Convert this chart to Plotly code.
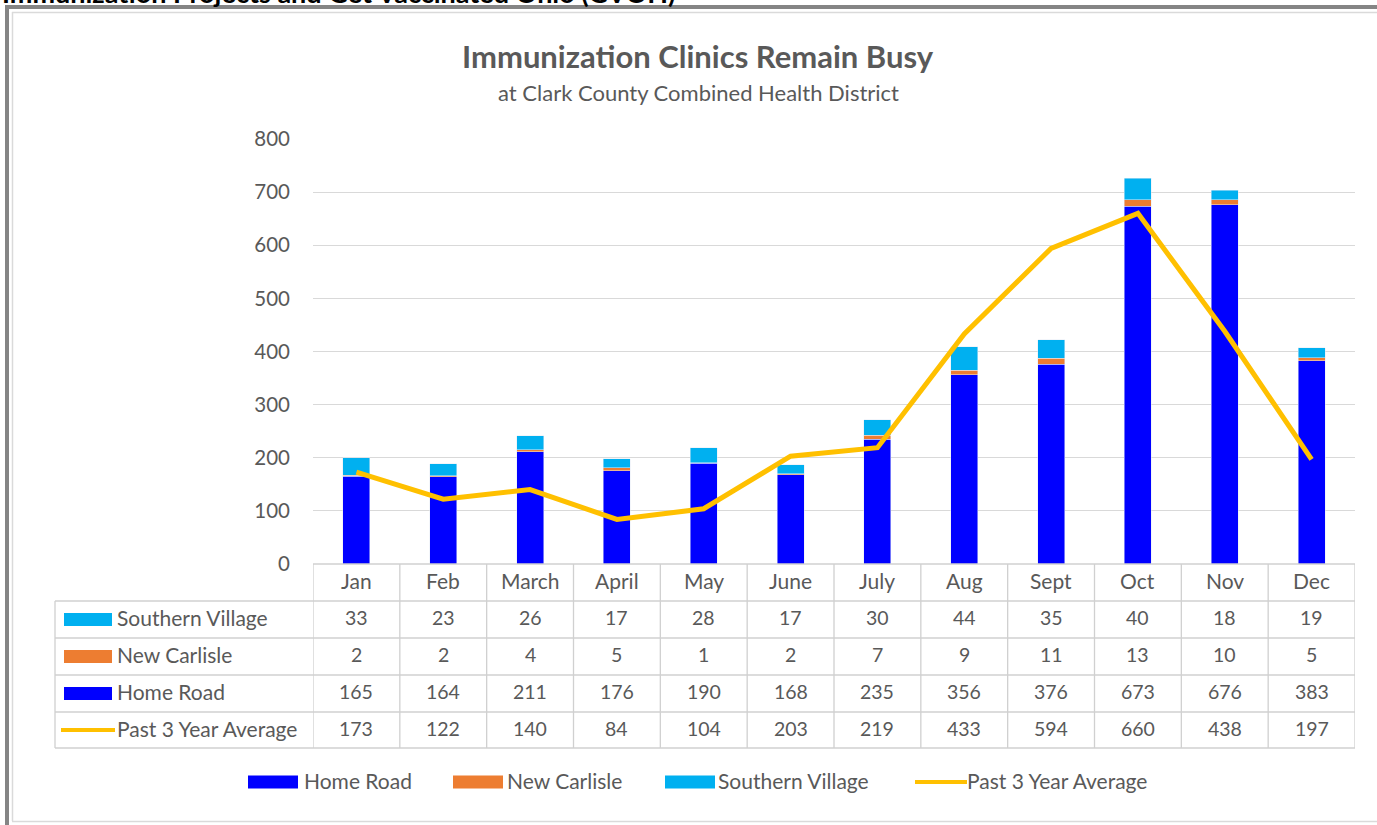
import plotly.graph_objects as go

# --- data ---
months = ["Jan", "Feb", "March", "April", "May", "June", "July", "Aug", "Sept", "Oct", "Nov", "Dec"]
home_road = [165, 164, 211, 176, 190, 168, 235, 356, 376, 673, 676, 383]
new_carlisle = [2, 2, 4, 5, 1, 2, 7, 9, 11, 13, 10, 5]
southern_village = [33, 23, 26, 17, 28, 17, 30, 44, 35, 40, 18, 19]
past_3yr_avg = [173, 122, 140, 84, 104, 203, 219, 433, 594, 660, 438, 197]

COLORS = {
    "home": "#0000FF",
    "carlisle": "#ED7D31",
    "southern": "#00B0F0",
    "avg": "#FFC000",
    "text": "#595959",
    "grid": "#D9D9D9",
    "border": "#D0D0D0",
}
FONT = "Lato"
W, H = 1377, 825
TXT_SHIFT = 2  # annotations sit a little low, nudge them up


def px(x):
    return x / W


def py(y):
    return 1 - y / H


fig = go.Figure()
fig.add_trace(go.Bar(x=months, y=home_road, name="Home Road", marker_color=COLORS["home"]))
fig.add_trace(go.Bar(x=months, y=new_carlisle, name="New Carlisle", marker_color=COLORS["carlisle"]))
fig.add_trace(go.Bar(x=months, y=southern_village, name="Southern Village", marker_color=COLORS["southern"]))
fig.add_trace(go.Scatter(x=months, y=past_3yr_avg, name="Past 3 Year Average", mode="lines",
                         line=dict(color=COLORS["avg"], width=5)))

shapes = []
annotations = []


def note(x, y, text, font, xref="paper", xanchor="center", yanchor="middle"):
    annotations.append(dict(x=x, xref=xref, y=y, yref="paper", text=text, showarrow=False,
                            xanchor=xanchor, yanchor=yanchor, font=font))


# --- data table under the plot ---
row_lines = [564, 601, 638, 675, 712, 748]
table_rows = [
    ("Southern Village", southern_village, COLORS["southern"], "bar"),
    ("New Carlisle", new_carlisle, COLORS["carlisle"], "bar"),
    ("Home Road", home_road, COLORS["home"], "bar"),
    ("Past 3 Year Average", past_3yr_avg, COLORS["avg"], "line"),
]
line_style = dict(color=COLORS["border"], width=1.3)

# horizontal borders
shapes.append(dict(type="line", xref="paper", yref="paper", x0=px(313), x1=px(1355),
                   y0=py(564), y1=py(564), line=line_style))
for yl in row_lines[1:]:
    shapes.append(dict(type="line", xref="paper", yref="paper", x0=px(55), x1=px(1355),
                       y0=py(yl), y1=py(yl), line=line_style))
# vertical borders
shapes.append(dict(type="line", xref="paper", yref="paper", x0=px(55), x1=px(55),
                   y0=py(601), y1=py(748), line=line_style))
for i in range(len(months) + 1):
    shapes.append(dict(type="line", xref="x", yref="paper", x0=i - 0.5, x1=i - 0.5,
                       y0=py(564), y1=py(748), line=line_style))

label_font = dict(family=FONT, size=21, color=COLORS["text"])
num_font = dict(family=FONT, size=19.5, color=COLORS["text"])
for m in months:
    note(m, py(582 - TXT_SHIFT), m, label_font, xref="x")
for r, (label, vals, color, kind) in enumerate(table_rows):
    yc = (row_lines[r + 1] + row_lines[r + 2]) / 2
    if kind == "bar":
        shapes.append(dict(type="rect", xref="paper", yref="paper", x0=px(64), x1=px(112),
                           y0=py(yc - 6.5), y1=py(yc + 6.5), fillcolor=color, line=dict(width=0)))
    else:
        shapes.append(dict(type="line", xref="paper", yref="paper", x0=px(61), x1=px(115),
                           y0=py(yc), y1=py(yc), line=dict(color=color, width=4)))
    note(px(115), py(yc - TXT_SHIFT), label, label_font, xanchor="left")
    for m, v in zip(months, vals):
        note(m, py(yc - TXT_SHIFT), str(v), num_font, xref="x")

# --- legend (drawn Excel style) ---
legend_items = [
    ("Home Road", COLORS["home"], "bar", 248, 302),
    ("New Carlisle", COLORS["carlisle"], "bar", 453, 505),
    ("Southern Village", COLORS["southern"], "bar", 665, 716),
    ("Past 3 Year Average", COLORS["avg"], "line", 915, 965),
]
ly = 782
for label, color, kind, sx, tx in legend_items:
    if kind == "bar":
        shapes.append(dict(type="rect", xref="paper", yref="paper", x0=px(sx), x1=px(sx + 50),
                           y0=py(ly - 6.5), y1=py(ly + 6.5), fillcolor=color, line=dict(width=0)))
    else:
        shapes.append(dict(type="line", xref="paper", yref="paper", x0=px(sx), x1=px(sx + 52),
                           y0=py(ly), y1=py(ly), line=dict(color=color, width=4)))
    note(px(tx), py(ly - TXT_SHIFT), label, label_font, xanchor="left")

# --- titles ---
note(px(698), py(56), "<b>Immunization Clinics Remain Busy</b>",
     dict(family=FONT, size=31, color=COLORS["text"]))
note(px(698), py(92), "at Clark County Combined Health District",
     dict(family=FONT, size=22, color=COLORS["text"]))
# clipped worksheet heading above the chart
note(px(678), py(11), "<b>Immunization Projects and Get Vaccinated Ohio (GVOH)</b>",
     dict(family=FONT, size=27, color="#000000"), xanchor="right", yanchor="bottom")

# --- chart frame ---
shapes.append(dict(type="line", xref="paper", yref="paper", x0=px(7), x1=px(7), y0=py(5), y1=0,
                   line=dict(color="#858585", width=4)))
shapes.append(dict(type="line", xref="paper", yref="paper", x0=px(5), x1=1, y0=py(7), y1=py(7),
                   line=dict(color="#858585", width=4)))
shapes.append(dict(type="line", xref="paper", yref="paper", x0=px(12.5), x1=px(12.5), y0=py(12), y1=py(821),
                   line=dict(color="#DADADA", width=1.5)))
shapes.append(dict(type="line", xref="paper", yref="paper", x0=px(12), x1=1, y0=py(12.5), y1=py(12.5),
                   line=dict(color="#DADADA", width=1.5)))
shapes.append(dict(type="line", xref="paper", yref="paper", x0=px(12), x1=1, y0=py(821.5), y1=py(821.5),
                   line=dict(color="#DADADA", width=1.5)))

fig.update_layout(
    width=W, height=H,
    margin=dict(l=0, r=0, t=0, b=0, autoexpand=False),
    paper_bgcolor="white", plot_bgcolor="white",
    barmode="stack", bargap=0.69,
    showlegend=False,
    shapes=shapes, annotations=annotations,
    xaxis=dict(domain=[px(313), px(1355)], range=[-0.5, 11.5], showticklabels=False,
               showgrid=False, zeroline=False, showline=False),
    yaxis=dict(domain=[py(564), py(139)], range=[0, 800], dtick=100, showgrid=True,
               gridcolor=COLORS["grid"], gridwidth=1.3, zeroline=False, showline=False,
               tickfont=dict(family=FONT, size=20.5, color=COLORS["text"]),
               ticklabelstandoff=22),
)

fig.write_html("out.html", config={"displayModeBar": False},
               post_script="document.body.style.margin='0';")
